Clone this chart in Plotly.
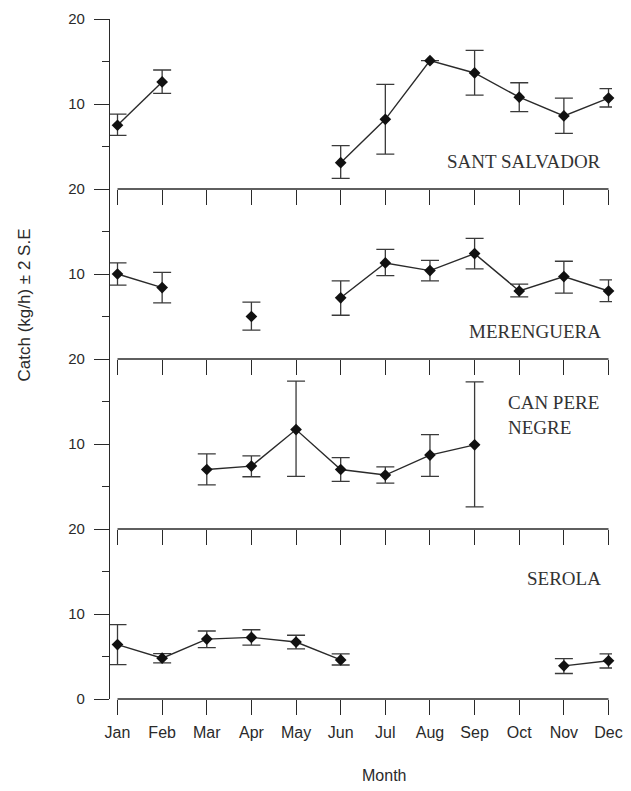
import plotly.graph_objects as go
from plotly.subplots import make_subplots

months = ["Jan", "Feb", "Mar", "Apr", "May", "Jun", "Jul", "Aug", "Sep", "Oct", "Nov", "Dec"]

sites = ["SANT SALVADOR", "MERENGUERA", "CAN PERE<br>NEGRE", "SEROLA"]

# mean catch (kg/h)
sant_salvador = [7.5, 12.6, None, None, None, 3.1, 8.2, 15.1, 13.65, 10.8, 8.6, 10.7]
merenguera = [10.0, 8.4, None, 5.0, None, 7.2, 11.3, 10.4, 12.4, 8.0, 9.7, 8.0]
can_pere_negre = [None, None, 7.0, 7.4, 11.7, 7.0, 6.35, 8.7, 9.9, None, None, None]
serola = [6.4, 4.8, 7.05, 7.25, 6.7, 4.6, None, None, None, None, 3.9, 4.5]

# +/- 2 S.E (upper / lower)
sant_salvador_up = [1.3, 1.4, None, None, None, 2.0, 4.1, None, 2.65, 1.7, 2.1, 1.1]
sant_salvador_lo = [1.2, 1.35, None, None, None, 1.85, 4.1, None, 2.6, 1.7, 2.05, 1.05]
merenguera_up = [1.3, 1.8, None, 1.7, None, 2.0, 1.6, 1.2, 1.8, 0.8, 1.8, 1.3]
merenguera_lo = [1.3, 1.8, None, 1.6, None, 2.05, 1.5, 1.2, 1.8, 0.7, 1.95, 1.25]
can_pere_negre_up = [None, None, 1.85, 1.2, 5.7, 1.4, 0.95, 2.4, 7.4, None, None, None]
can_pere_negre_lo = [None, None, 1.8, 1.25, 5.5, 1.4, 0.95, 2.5, 7.3, None, None, None]
serola_up = [2.35, 0.55, 0.95, 0.9, 0.8, 0.7, None, None, None, None, 0.85, 0.8]
serola_lo = [2.35, 0.55, 1.0, 0.9, 0.8, 0.6, None, None, None, None, 0.9, 0.85]

series = [
    (sant_salvador, sant_salvador_up, sant_salvador_lo),
    (merenguera, merenguera_up, merenguera_lo),
    (can_pere_negre, can_pere_negre_up, can_pere_negre_lo),
    (serola, serola_up, serola_lo),
]

y_ticks_upper = [10, 20]
y_ticks_bottom = [0, 10, 20]
y_minor = [5, 15]

INK = "#2a2a2a"
SANS = "Liberation Sans, Arial, sans-serif"
SERIF = "Liberation Serif, Times New Roman, serif"

fig = make_subplots(rows=4, cols=1, shared_xaxes=True, vertical_spacing=0)

for i, (vals, up, lo) in enumerate(series):
    fig.add_trace(
        go.Scatter(
            x=months, y=vals, mode="lines+markers",
            connectgaps=False, cliponaxis=False,
            line=dict(color=INK, width=1.4),
            marker=dict(symbol="diamond", size=9, color="#111"),
            error_y=dict(type="data", symmetric=False, array=up, arrayminus=lo,
                         color="#3a3a3a", thickness=1.3, width=9),
            showlegend=False,
        ),
        row=i + 1, col=1,
    )

n = len(series)
for i in range(n):
    r = i + 1
    fig.update_yaxes(
        range=[0, 20], tickmode="array",
        tickvals=y_ticks_bottom if r == n else y_ticks_upper,
        ticks="outside", ticklen=15, tickwidth=1.3, tickcolor=INK,
        minor=dict(tickmode="array", tickvals=y_minor, ticks="outside",
                   ticklen=7, tickwidth=1.3, tickcolor=INK),
        showline=True, linecolor=INK, linewidth=1.3,
        showgrid=False, zeroline=False, automargin=False,
        tickfont=dict(family=SANS, size=15, color=INK),
        ticklabelstandoff=6,
        row=r, col=1,
    )
    fig.update_xaxes(
        type="category", categoryorder="array", categoryarray=months,
        range=[-0.168, 11.078],
        ticks="outside", ticklen=15, tickwidth=1.3, tickcolor=INK,
        showline=False, showgrid=False, zeroline=False, automargin=False,
        showticklabels=(r == n),
        tickfont=dict(family=SANS, size=16, color=INK),
        ticklabelstandoff=4,
        row=r, col=1,
    )
    yname = "y" if r == 1 else f"y{r}"
    xname = "x" if r == 1 else f"x{r}"
    fig.add_shape(type="line", xref=xname, yref=f"{yname} domain",
                  x0=0, x1=len(months) - 1, y0=0, y1=0,
                  line=dict(color=INK, width=1.3))

# panel labels
label_pos = [
    dict(x=0.982, y=0.790, xanchor="right", align="right"),
    dict(x=0.982, y=0.540, xanchor="right", align="right"),
    dict(x=0.789, y=0.417, xanchor="left", align="left"),
    dict(x=0.982, y=0.1775, xanchor="right", align="right"),
]
for name, pos in zip(sites, label_pos):
    fig.add_annotation(text=name, xref="paper", yref="paper", showarrow=False,
                       yanchor="middle", font=dict(family=SERIF, size=19, color="#333"),
                       **pos)

fig.add_annotation(text="Catch (kg/h) ± 2 S.E", xref="paper", yref="paper",
                   x=-0.171, y=0.579, textangle=-90, showarrow=False,
                   xanchor="center", yanchor="middle",
                   font=dict(family=SANS, size=17, color=INK))
fig.add_annotation(text="Month", xref="paper", yref="paper",
                   x=0.546, y=-0.113, showarrow=False,
                   xanchor="center", yanchor="middle",
                   font=dict(family=SANS, size=16, color=INK))

# the page body adds an 8px offset, so the figure is shifted up/left by that amount
fig.update_layout(
    width=623, height=783,
    margin=dict(l=102, r=19, t=11, b=92, autoexpand=False),
    paper_bgcolor="white", plot_bgcolor="white",
    showlegend=False,
)

fig.write_html("out.html")
